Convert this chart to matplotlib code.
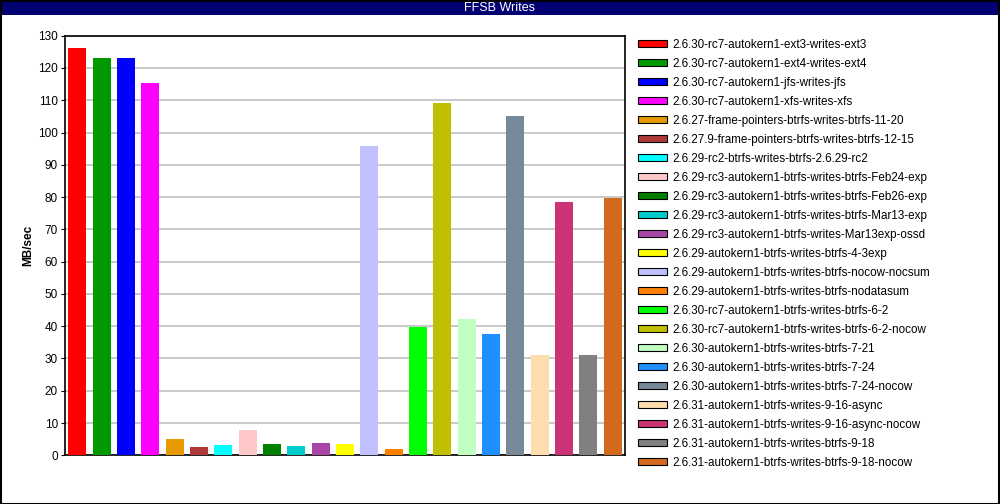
import matplotlib
matplotlib.use("Agg")
import matplotlib.pyplot as plt
from matplotlib.patches import Patch, Rectangle

plt.rcParams['font.family'] = ['Liberation Sans', 'DejaVu Sans']

# FFSB write throughput per kernel/fs run
labels = [
    "2.6.30-rc7-autokern1-ext3-writes-ext3",
    "2.6.30-rc7-autokern1-ext4-writes-ext4",
    "2.6.30-rc7-autokern1-jfs-writes-jfs",
    "2.6.30-rc7-autokern1-xfs-writes-xfs",
    "2.6.27-frame-pointers-btrfs-writes-btrfs-11-20",
    "2.6.27.9-frame-pointers-btrfs-writes-btrfs-12-15",
    "2.6.29-rc2-btrfs-writes-btrfs-2.6.29-rc2",
    "2.6.29-rc3-autokern1-btrfs-writes-btrfs-Feb24-exp",
    "2.6.29-rc3-autokern1-btrfs-writes-btrfs-Feb26-exp",
    "2.6.29-rc3-autokern1-btrfs-writes-btrfs-Mar13-exp",
    "2.6.29-rc3-autokern1-btrfs-writes-Mar13exp-ossd",
    "2.6.29-autokern1-btrfs-writes-btrfs-4-3exp",
    "2.6.29-autokern1-btrfs-writes-btrfs-nocow-nocsum",
    "2.6.29-autokern1-btrfs-writes-btrfs-nodatasum",
    "2.6.30-rc7-autokern1-btrfs-writes-btrfs-6-2",
    "2.6.30-rc7-autokern1-btrfs-writes-btrfs-6-2-nocow",
    "2.6.30-autokern1-btrfs-writes-btrfs-7-21",
    "2.6.30-autokern1-btrfs-writes-btrfs-7-24",
    "2.6.30-autokern1-btrfs-writes-btrfs-7-24-nocow",
    "2.6.31-autokern1-btrfs-writes-9-16-async",
    "2.6.31-autokern1-btrfs-writes-9-16-async-nocow",
    "2.6.31-autokern1-btrfs-writes-btrfs-9-18",
    "2.6.31-autokern1-btrfs-writes-btrfs-9-18-nocow",
]
mbsec = [126.2, 123.1, 123.1, 115.3, 5.1, 2.6, 3.2, 7.8, 3.5, 2.9, 3.8, 3.5,
         95.7, 2.0, 39.8, 109.2, 42.3, 37.6, 105.1, 31.0, 78.5, 31.0, 79.8]
colors = ["#ff0000", "#009900", "#0000ff", "#ff00ff", "#e69900", "#b03a3a",
          "#00ffff", "#ffc8c8", "#007f00", "#00cccc", "#a846a8", "#ffff00",
          "#c0c0ff", "#ff8000", "#00ff00", "#c0c000", "#c0ffc0", "#1e90ff",
          "#778899", "#ffdead", "#cc3377", "#808080", "#d2691e"]
yticks = list(range(0, 131, 10))

fig = plt.figure(figsize=(10, 5.04), dpi=100)
W, H = 1000, 504

# title bar + outer border
fig.patches.append(Rectangle((0, 1 - 15 / H), 1, 15 / H, transform=fig.transFigure,
                             facecolor="#000070", edgecolor="none"))
fig.patches.append(Rectangle((0.5 / W, 0.5 / H), 1 - 1.5 / W, 1 - 1.5 / H,
                             transform=fig.transFigure, facecolor="none",
                             edgecolor="black", lw=1.5))
fig.text(0.5, 1 - 8 / H, "FFSB Writes", color="white", ha="center", va="center",
         fontsize=9)

ax = fig.add_axes([65 / W, 1 - 455.3 / H, 560 / W, (455.3 - 35.7) / H])
x = list(range(len(mbsec)))
ax.bar(x, mbsec, width=0.74, color=colors, zorder=3)
ax.set_xlim(-0.5, len(mbsec) - 0.5)
ax.set_ylim(0, 130)
ax.set_yticks(yticks)
ax.set_xticks([])
ax.grid(axis="y", color="#c0c0c0", lw=1.2, zorder=0)
ax.tick_params(axis="y", length=3, labelsize=8.5, pad=2)
for s in ax.spines.values():
    s.set_linewidth(1.2)
ax.set_ylabel("MB/sec", fontsize=8.5, fontweight="bold", labelpad=3)

handles = [Patch(facecolor=c, edgecolor="black", lw=0.8) for c in colors]
fig.legend(handles, labels, loc="upper left", bbox_to_anchor=(633 / W, 1 - 34 / H),
           frameon=False, fontsize=8.4, handlelength=2.5, handleheight=0.65,
           labelspacing=0.6, handletextpad=0.45, borderaxespad=0)

fig.savefig("out.png", dpi=100)
